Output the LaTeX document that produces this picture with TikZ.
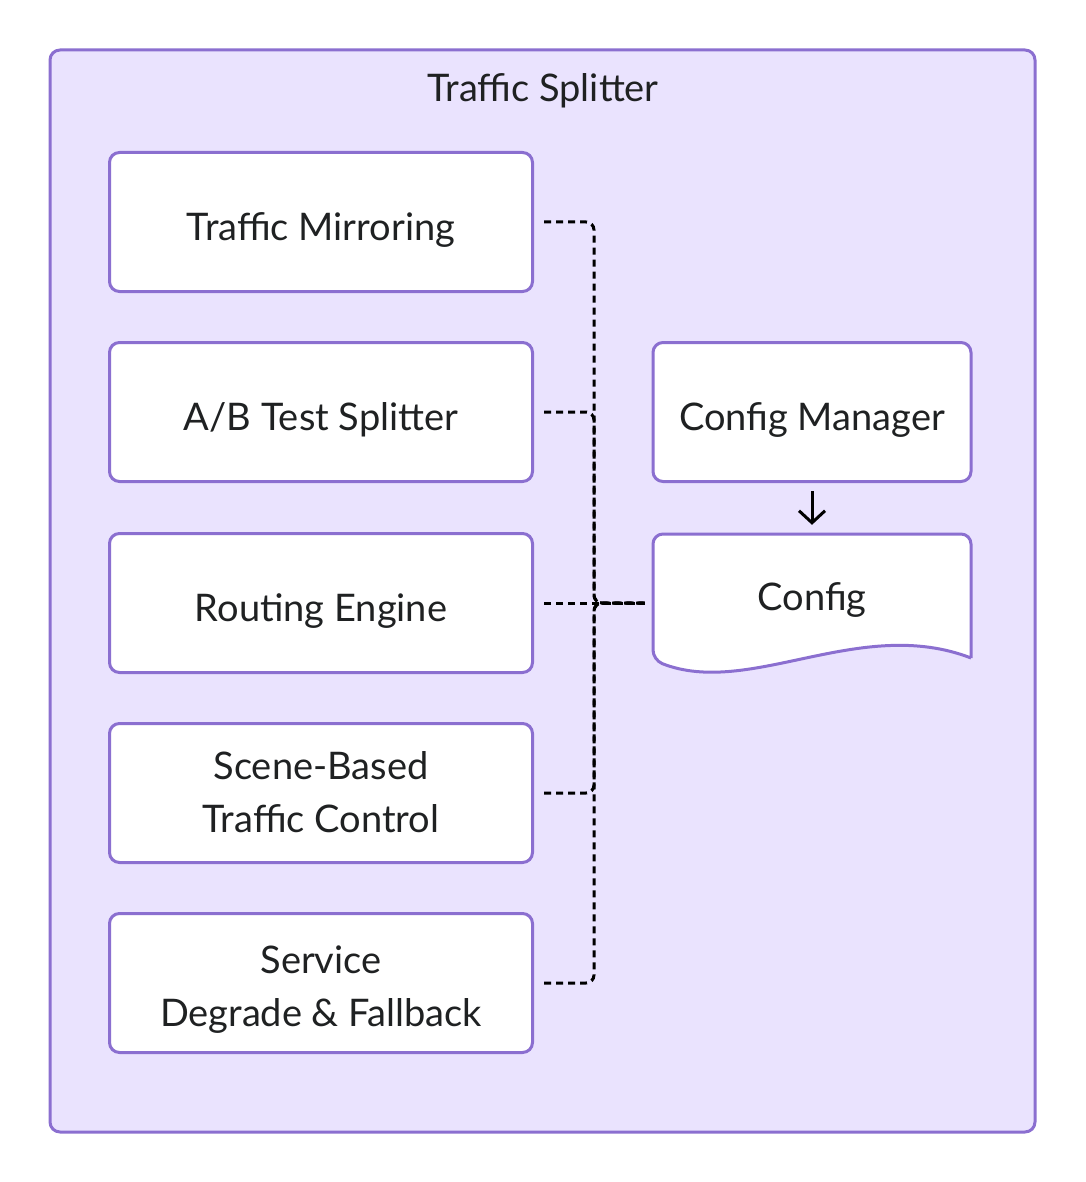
\documentclass[tikz,border=0pt]{standalone}
\usepackage{fontspec}
\setmainfont{Lato}
\usetikzlibrary{arrows.meta}
\definecolor{clusterfill}{HTML}{EAE3FE}
\definecolor{clusterline}{HTML}{8B6FD0}
\definecolor{inktext}{HTML}{1F2122}
% baseline sits #1 below the node centre
\newcommand{\dropline}[2]{\smash{\raisebox{-#1}{#2}}}

\begin{document}
\begin{tikzpicture}[
  x=1pt, y=-1pt,
  every node/.style={font=\fontsize{38}{53}\selectfont, text=inktext, align=center},
  box/.style={draw=clusterline, line width=3pt, fill=white, rounded corners=10pt,
    minimum width=423pt, minimum height=139pt, inner sep=0pt},
  link/.style={draw=black, line width=3pt, dash pattern=on 7pt off 5pt, rounded corners=8pt,
    shorten <=10pt, shorten >=8pt}
]
\useasboundingbox (0,0) rectangle (1085,1182);
\draw[draw=clusterline, fill=clusterfill, line width=3pt, rounded corners=10pt] (50,50) rectangle (1035,1132);
\node[anchor=base] (title) at (543,102) {Traffic Splitter};

\node[box] (mirror) at (321,222) {\dropline{18.5pt}{Traffic Mirroring}};
\node[box] (abtest) at (321,412) {\dropline{18.5pt}{A/B Test Splitter}};
\node[box] (routing) at (321,603) {\dropline{18.5pt}{Routing Engine}};
\node[box] (scene) at (321,793) {\dropline{12.5pt}{Scene-Based}\\\dropline{12.5pt}{Traffic Control}};
\node[box] (degrade) at (321,983) {\dropline{17pt}{Service}\\\dropline{17pt}{Degrade \& Fallback}};

\node[box, minimum width=318pt] (manager) at (812,412) {\dropline{18.5pt}{Config Manager}};
% document shape with wavy bottom
\draw[draw=clusterline, fill=white, line width=3pt, rounded corners=10pt]
  (971,658) -- (971,534) -- (653,534) -- (653,660)
  [sharp corners] .. controls (750,698) and (860,615) .. (971,658);
\node[minimum width=318pt, minimum height=138pt, inner sep=0pt] (config) at (812,603) {\dropline{7pt}{Config}};

\draw[line width=3pt, -{Straight Barb[length=12pt, width=26pt]}, shorten <=8pt, shorten >=9pt] (manager) -- (config);

\coordinate (bus) at (594,603);
\draw[link] (mirror.east) -| (bus) -- (config.west);
\draw[link] (abtest.east) -| (bus) -- (config.west);
\draw[link] (routing.east) -- (config.west);
\draw[link] (scene.east) -| (bus) -- (config.west);
\draw[link] (degrade.east) -| (bus) -- (config.west);
\end{tikzpicture}
\end{document}
